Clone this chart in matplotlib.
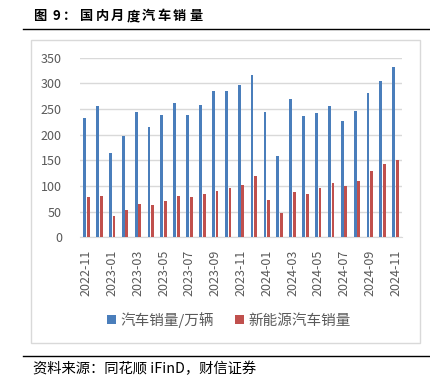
import matplotlib
matplotlib.use("Agg")
import matplotlib.pyplot as plt
import numpy as np
from matplotlib.patches import Rectangle
from matplotlib.lines import Line2D

plt.rcParams['font.family'] = ['Noto Sans CJK SC', 'DejaVu Sans']

# monthly data (万辆)
months = ['2022-11', '2022-12', '2023-01', '2023-02', '2023-03', '2023-04', '2023-05',
          '2023-06', '2023-07', '2023-08', '2023-09', '2023-10', '2023-11', '2023-12',
          '2024-01', '2024-02', '2024-03', '2024-04', '2024-05', '2024-06', '2024-07',
          '2024-08', '2024-09', '2024-10', '2024-11']
car_sales = [232.6, 255.9, 164.9, 197.6, 245.1, 215.9, 238.2, 262.2, 238.7, 258.2, 285.8,
             285.3, 297.0, 315.6, 243.9, 158.4, 269.4, 235.9, 241.7, 255.2, 226.2, 245.3,
             280.9, 305.3, 331.6]
nev_sales = [78.6, 81.4, 40.8, 52.5, 65.3, 63.6, 71.7, 80.6, 78.0, 84.6, 90.4, 95.6,
             102.6, 119.1, 72.9, 47.7, 88.3, 85.0, 95.5, 104.9, 99.1, 110.0, 128.7,
             143.0, 151.2]
yticks = [0, 50, 100, 150, 200, 250, 300, 350]

BLUE = '#4a7ebb'
RED = '#c0504d'
GREY = '#595959'

W, H = 431, 379
fig = plt.figure(figsize=(W / 100, H / 100), dpi=100)

# chart frame
fig.patches.append(Rectangle((31 / W, 1 - 343 / H), (420 - 31) / W, (343 - 40) / H,
                             transform=fig.transFigure, fill=False,
                             edgecolor='#d9d9d9', linewidth=1))

ax = fig.add_axes([80 / W, 1 - 237.3 / H, (402 - 80) / W, (237.3 - 57.7) / H])
x = np.arange(len(months))
bw = 0.22
ax.bar(x - 0.14, car_sales, width=bw, color=BLUE, label='汽车销量/万辆', zorder=3)
ax.bar(x + 0.14, nev_sales, width=bw, color=RED, label='新能源汽车销量', zorder=3)

ax.set_xlim(-0.5, len(months) - 0.5)
ax.set_ylim(0, 350)
ax.set_yticks(yticks)
ax.set_xticks(x[::2])
ax.set_xticklabels(months[::2], rotation=90)
ax.tick_params(axis='both', length=0, labelsize=9, labelcolor=GREY)
ax.tick_params(axis='x', pad=9)
ax.tick_params(axis='y', pad=13)
ax.grid(axis='y', color='#d9d9d9', linewidth=1, zorder=0)
ax.set_axisbelow(True)
for s in ['top', 'right', 'left']:
    ax.spines[s].set_visible(False)
ax.spines['bottom'].set_color('#d9d9d9')

handles, labels = ax.get_legend_handles_labels()
fig.legend(handles, labels, loc='center', bbox_to_anchor=(229 / W, 1 - 320 / H),
           ncol=2, frameon=False, fontsize=10.5, labelcolor=GREY,
           handlelength=0.6, handleheight=0.6, handletextpad=0.3, columnspacing=1.5)

# title with spaced characters
title_chars = ['图', '9', '：', '国', '内', '月', '度', '汽', '车', '销', '量']
title_x = [33, 53, 63, 80, 95.5, 111, 126.5, 142, 157.5, 173, 189]
for ch, tx in zip(title_chars, title_x):
    fig.text(tx / W, 1 - 20 / H, ch, fontsize=9.5, fontweight='bold',
             ha='left', va='baseline', color='black')
fig.add_artist(Line2D([23 / W, 1], [1 - 29 / H, 1 - 29 / H], color='black', linewidth=1))

# source line
fig.add_artist(Line2D([23 / W, 1], [1 - 356 / H, 1 - 356 / H], color='black', linewidth=1))
fig.text(33 / W, 1 - 369 / H, '资料来源：同花顺 iFinD，财信证券', fontsize=10.3,
         style='italic', ha='left', va='center', color='black')

fig.savefig('out.png', dpi=100)
